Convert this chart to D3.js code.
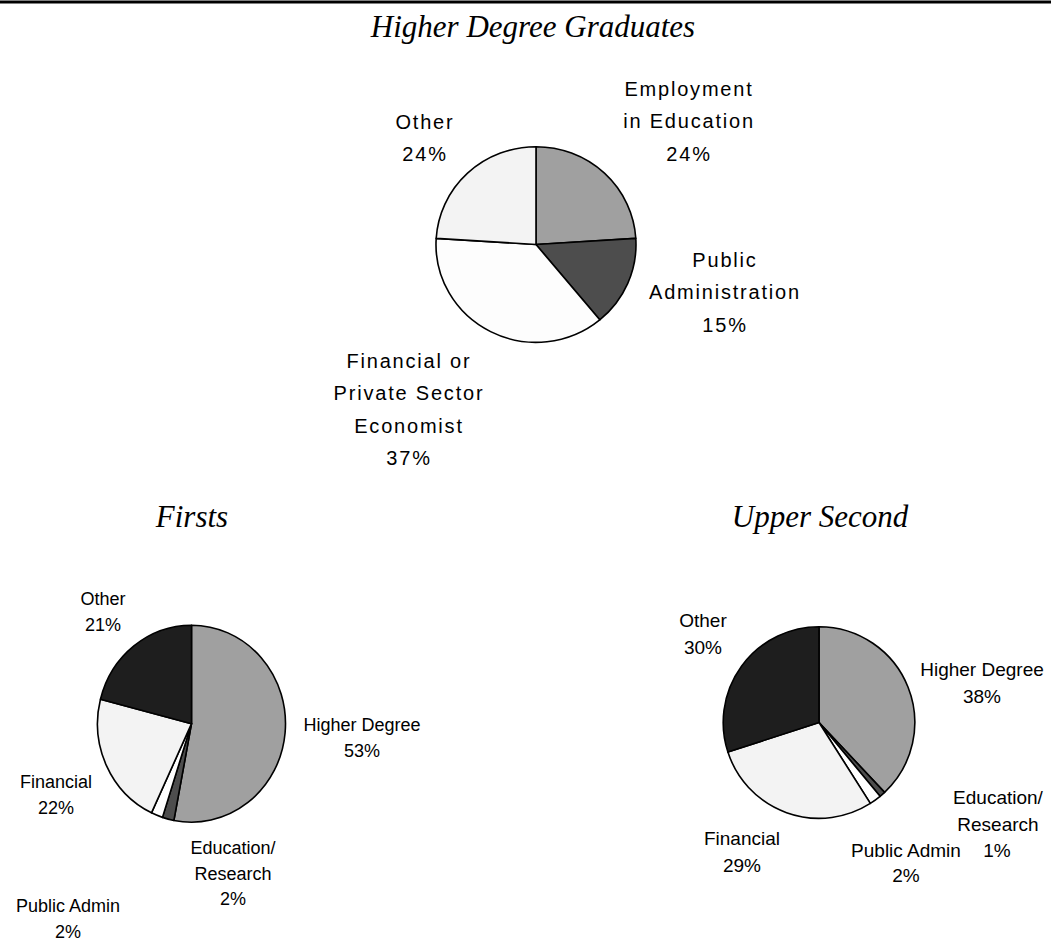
<!DOCTYPE html>
<html>
<head>
<meta charset="utf-8">
<script src="https://cdn.jsdelivr.net/npm/d3@7"></script>
<style>
  html, body { margin: 0; padding: 0; background: #fff; }
  svg { display: block; }
  .title { font-family: "Liberation Serif", "Times New Roman", serif; font-style: italic; fill: #000; }
  .lbl { font-family: "Liberation Sans", Arial, sans-serif; fill: #000; }
</style>
</head>
<body>
<svg id="chart" width="1051" height="942"></svg>
<script>
// Destination of higher degree graduates (percent)
const hdCategories = ["Employment in Education", "Public Administration", "Financial or Private Sector Economist", "Other"];
const hdValues = [24, 15, 37, 24];
const hdLabelLines = [["Employment", "in Education"], ["Public", "Administration"], ["Financial or", "Private Sector", "Economist"], ["Other"]];

// Destination of first class graduates (percent)
const degCategories = ["Higher Degree", "Education/Research", "Public Admin", "Financial", "Other"];
const firstsValues = [53, 2, 2, 22, 21];
// Destination of upper second graduates (percent)
const upperValues = [38, 1, 2, 29, 30];
const degLabelLines = [["Higher Degree"], ["Education/", "Research"], ["Public Admin"], ["Financial"], ["Other"]];

const titles = ["Higher Degree Graduates", "Firsts", "Upper Second"];

const svg = d3.select("#chart");

// rule across the top
svg.append("rect").attr("x", 0).attr("y", 0.5).attr("width", 1051).attr("height", 3).attr("fill", "#000");

const pie = d3.pie().sort(null).value(d => d.value);

function drawPie(cfg) {
  const data = cfg.categories.map((c, i) => ({ name: c, value: cfg.values[i] }));
  const arcs = pie(data);
  const arc = d3.arc().innerRadius(0).outerRadius(cfg.ry);
  const g = svg.append("g")
    .attr("transform", `translate(${cfg.cx},${cfg.cy}) scale(${cfg.rx / cfg.ry},1)`);
  g.selectAll("path")
    .data(arcs)
    .join("path")
    .attr("d", arc)
    .attr("fill", (d, i) => cfg.colors[i])
    .attr("stroke", "#000")
    .attr("stroke-width", 1.6)
    .attr("stroke-linejoin", "round")
    .attr("vector-effect", "non-scaling-stroke");

  // category labels with their percentage below
  arcs.forEach((d, i) => {
    const pos = cfg.labelPos[i];
    const lines = cfg.lines[i].concat([`${d.data.value}%`]);
    const t = svg.append("text")
      .attr("class", "lbl")
      .attr("text-anchor", "middle")
      .attr("font-size", cfg.fontSize)
      .attr("letter-spacing", cfg.spacing);
    lines.forEach((ln, k) => {
      const lp = (pos.line && pos.line[k]) || {};
      t.append("tspan")
        .attr("x", (lp.x !== undefined ? lp.x : pos.x))
        .attr("y", (lp.y !== undefined ? lp.y : pos.y + k * cfg.lineH))
        .text(ln);
    });
  });
}

// titles
svg.append("text").attr("class", "title").attr("x", 533).attr("y", 37)
  .attr("text-anchor", "middle").attr("font-size", 31).text(titles[0]);
svg.append("text").attr("class", "title").attr("x", 192).attr("y", 527)
  .attr("text-anchor", "middle").attr("font-size", 31).text(titles[1]);
svg.append("text").attr("class", "title").attr("x", 820).attr("y", 527)
  .attr("text-anchor", "middle").attr("font-size", 31).text(titles[2]);

drawPie({
  categories: hdCategories, values: hdValues, lines: hdLabelLines,
  cx: 536, cy: 244.5, rx: 100, ry: 97.8,
  colors: ["#a0a0a0", "#4d4d4d", "#fdfdfd", "#f3f3f3"],
  fontSize: 20, spacing: 1.8, lineH: 32.3,
  labelPos: [
    { x: 689, y: 96 },
    { x: 725, y: 267 },
    { x: 409, y: 368 },
    { x: 425, y: 129 }
  ]
});

drawPie({
  categories: degCategories, values: firstsValues, lines: degLabelLines,
  cx: 191.5, cy: 723.7, rx: 94, ry: 98.5,
  colors: ["#a0a0a0", "#4d4d4d", "#ffffff", "#f3f3f3", "#1e1e1e"],
  fontSize: 18, spacing: 0, lineH: 25.5,
  labelPos: [
    { x: 362, y: 731 },
    { x: 233, y: 854 },
    { x: 68, y: 912 },
    { x: 56, y: 788 },
    { x: 103, y: 605 }
  ]
});

drawPie({
  categories: degCategories, values: upperValues, lines: degLabelLines,
  cx: 819, cy: 722.5, rx: 95.8, ry: 95.8,
  colors: ["#a0a0a0", "#4d4d4d", "#ffffff", "#f3f3f3", "#1e1e1e"],
  fontSize: 19, spacing: 0, lineH: 26.5,
  labelPos: [
    { x: 982, y: 676 },
    { x: 998, y: 804, line: [{}, {}, { x: 997, y: 857 }] },
    { x: 906, y: 857, line: [{}, { y: 882 }] },
    { x: 742, y: 845 },
    { x: 703, y: 627 }
  ]
});
</script>
</body>
</html>
